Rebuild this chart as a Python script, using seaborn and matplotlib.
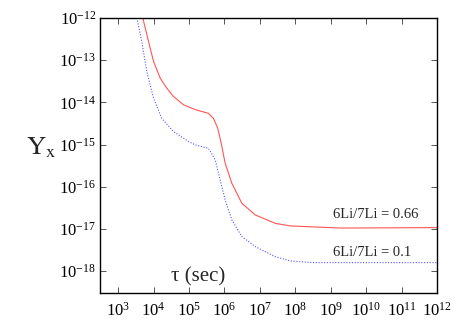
import numpy as np
import pandas as pd
import matplotlib
matplotlib.use("Agg")
import matplotlib.pyplot as plt
import matplotlib.ticker as mticker
import seaborn as sns

# log10(tau) and log10(Y)
red_logtau = [3.70, 3.86, 4.00, 4.19, 4.38, 4.56, 4.85, 5.20, 5.55, 5.69, 5.81, 5.90,
              6.02, 6.21, 6.49, 6.87, 7.44, 7.86, 9.27, 12.0]
red_logY = [-12.01, -12.56, -13.03, -13.43, -13.67, -13.86, -14.06, -14.18, -14.26,
            -14.38, -14.61, -14.93, -15.44, -15.92, -16.39, -16.67, -16.87, -16.93,
            -16.98, -16.97]
blue_logtau = [3.53, 3.67, 3.81, 4.00, 4.23, 4.56, 4.99, 5.18, 5.55, 5.74, 5.88, 6.02,
               6.21, 6.49, 6.87, 7.44, 7.86, 8.5, 12.0]
blue_logY = [-12.0, -12.56, -13.27, -13.90, -14.38, -14.69, -14.93, -15.01, -15.09,
             -15.36, -15.84, -16.31, -16.79, -17.18, -17.42, -17.66, -17.76, -17.80,
             -17.80]
labels = ["6Li/7Li = 0.66", "6Li/7Li = 0.1"]
xticks = [1e3, 1e4, 1e5, 1e6, 1e7, 1e8, 1e9, 1e10, 1e11, 1e12]
yticks = [1e-18, 1e-17, 1e-16, 1e-15, 1e-14, 1e-13, 1e-12]

sns.set_style("ticks")
plt.rcParams["font.family"] = ["Liberation Serif", "DejaVu Serif"]
plt.rcParams["mathtext.fontset"] = "stix"

df = pd.concat([
    pd.DataFrame({"tau": 10 ** np.array(red_logtau), "Y": 10 ** np.array(red_logY), "s": labels[0]}),
    pd.DataFrame({"tau": 10 ** np.array(blue_logtau), "Y": 10 ** np.array(blue_logY), "s": labels[1]}),
])

fig = plt.figure(figsize=(4.63, 3.24), dpi=100)
ax = fig.add_axes([0.216, 0.0957, 0.728, 0.8488])

sns.lineplot(data=df[df.s == labels[0]], x="tau", y="Y", ax=ax, color="#ff5555",
             lw=0.8, sort=False, legend=False)
sns.lineplot(data=df[df.s == labels[1]], x="tau", y="Y", ax=ax, color="#5555ff",
             lw=0.8, ls=(0, (1, 1.5)), sort=False, legend=False)

ax.set_xscale("log")
ax.set_yscale("log")
ax.set_xlim(10 ** 2.49, 1e12)
ax.set_ylim(10 ** -18.52, 1e-12)
ax.set_xticks(xticks)
ax.set_yticks(yticks)
ax.xaxis.set_minor_locator(mticker.NullLocator())
ax.yaxis.set_minor_locator(mticker.NullLocator())
ax.xaxis.set_major_formatter(mticker.LogFormatterSciNotation())
ax.yaxis.set_major_formatter(mticker.LogFormatterSciNotation())
ax.tick_params(which="both", direction="in", top=True, right=True, length=4,
               width=0.7, labelsize=12, pad=5, colors="#555555", labelcolor="black")
ax.tick_params(axis="y", pad=3)
ax.tick_params(axis="x", pad=6)
for s in ax.spines.values():
    s.set_linewidth(1.0)
    s.set_color("black")
ax.set_xlabel("")
ax.set_ylabel("")

ax.text(10 ** 9.05, 10 ** -16.67, labels[0], fontsize=10.5, va="center", ha="left")
ax.text(10 ** 9.05, 10 ** -17.55, labels[1], fontsize=10.5, va="center", ha="left")
ax.text(10 ** 4.50, 10 ** -18.14, "τ (sec)", fontsize=15, va="center", ha="left")
fig.text(41 / 463, 1 - 148 / 324, r"$\mathrm{Y}_{\mathrm{x}}$", fontsize=19,
         ha="center", va="center")

fig.savefig("out.png", dpi=100)
